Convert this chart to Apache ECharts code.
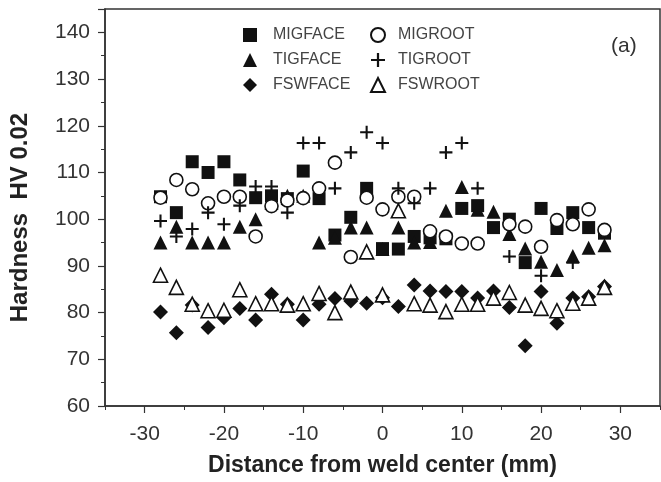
<!DOCTYPE html>
<html>
<head>
<meta charset="utf-8">
<script src="https://cdn.jsdelivr.net/npm/echarts@6/dist/echarts.min.js"></script>
<style>html,body{margin:0;padding:0;background:#fff;}#c{width:661px;height:482px;}</style>
</head>
<body>
<div id="c"></div>
<script>
var positions = [-28,-26,-24,-22,-20,-18,-16,-14,-12,-10,-8,-6,-4,-2,0,2,4,6,8,10,12,14,16,18,20,22,24,26,28];
var migFace = [104.8,101.4,112.3,110,112.3,108.4,104.6,105,104.4,110.3,104.4,96.6,100.4,106.6,93.7,93.6,96.3,96,95.8,102.3,102.9,98.2,100,90.7,102.3,98,101.4,98.2,97];
var migRoot = [104.6,108.4,106.4,103.4,104.8,104.8,96.3,102.8,104,104.5,106.6,112.1,91.9,104.6,102.1,104.8,104.8,97.4,96.3,94.8,94.8,null,98.9,98.4,94.1,99.8,98.9,102.1,97.7];
var tigFace = [95,98.4,95,95,95,98.4,100,103.5,105,105,95,96,98.2,98.2,93.6,98.2,95,95.1,101.8,106.9,102,101.6,96.8,93.7,90.9,89.1,92.1,93.9,94.4];
var tigRoot = [99.6,96.3,97.9,101.4,98.9,102.9,107,107,101.4,116.3,116.3,106.6,114.3,118.6,116.3,106.6,103.4,106.6,114.3,116.3,106.6,null,92,null,87.9,null,90.7,null,null];
var fswFace = [80.1,75.7,81.6,76.8,78.9,80.9,78.4,83.9,81.8,78.4,81.8,83,82.5,82,83.2,81.3,85.9,84.6,84.5,84.5,83.1,84.6,81.1,72.9,84.5,77.7,83.1,83.4,85.6];
var fswRoot = [88,85.4,81.8,80.4,80.5,84.9,81.9,81.9,81.6,81.9,84.1,80,84.4,93,83.8,101.8,81.9,81.6,80.2,81.8,81.8,83.1,84.3,81.6,80.9,80.4,82,83.1,85.4];
var xTicks = [-30,-20,-10,0,10,20,30];
var yTicks = [60,70,80,90,100,110,120,130,140];
var panelLabel = '(a)';

function pairs(vals){
  var out = [];
  positions.forEach(function(x,i){ if (vals[i] !== null) out.push([x, vals[i]]); });
  return out;
}
var plusPath = 'path://M4.2,0h1.6v4.2h4.2v1.6h-4.2v4.2h-1.6v-4.2h-4.2v-1.6h4.2z';
var ink = '#111';
var FONT = 'Liberation Sans, Arial, sans-serif';

function filled(name, symbol, vals, size){
  return {name:name, type:'scatter', data:pairs(vals), symbol:symbol, symbolSize:size,
    itemStyle:{color:ink, opacity:1}, emphasis:{disabled:true}};
}
function hollow(name, symbol, vals, size){
  return {name:name, type:'scatter', data:pairs(vals), symbol:symbol, symbolSize:size,
    itemStyle:{color:'#fff', borderColor:ink, borderWidth:1.6, opacity:1}, emphasis:{disabled:true}};
}

var chart = echarts.init(document.getElementById('c'), null, {renderer:'canvas'});
var legendText = {fontFamily:FONT, fontSize:16, color:'#444'};
chart.setOption({
  animation:false,
  backgroundColor:'#fff',
  title:{text:panelLabel, left:606, top:31, textStyle:{fontFamily:FONT, fontSize:21, fontWeight:'normal', color:'#333'}},
  legend:[
    {data:['MIGFACE','TIGFACE','FSWFACE'], orient:'vertical', left:238, top:22, itemWidth:14, itemHeight:14, itemGap:9,
     textStyle:Object.assign({padding:[0,0,0,11]}, legendText), selectedMode:false},
    {data:['MIGROOT','TIGROOT','FSWROOT'], orient:'vertical', left:365, top:22, itemWidth:14, itemHeight:14, itemGap:9,
     textStyle:Object.assign({padding:[0,0,0,8]}, legendText), selectedMode:false}
  ],
  grid:{left:104, right:1, top:9, bottom:75, show:true, borderColor:'#333', borderWidth:1.5, backgroundColor:'transparent'},
  xAxis:[
    {type:'value', min:-35, max:35, interval:5, position:'bottom',
     name:'Distance from weld center (mm)', nameLocation:'middle', nameGap:48,
     nameTextStyle:{fontFamily:FONT, fontSize:23, fontWeight:'bold', color:'#222'},
     axisLine:{show:true, onZero:false, lineStyle:{color:'#333', width:1.5}},
     axisTick:{show:true, inside:false, length:7, customValues:xTicks, lineStyle:{color:'#333', width:1.2}},
     splitLine:{show:false},
     axisLabel:{margin:18, customValues:xTicks, fontFamily:FONT, fontSize:21, color:'#333'}
    },
    {type:'value', min:-35, max:35, interval:10, position:'bottom', offset:0,
     axisLine:{show:false, onZero:false},
     axisTick:{show:true, inside:false, length:4, lineStyle:{color:'#333', width:1}},
     axisLabel:{show:false}, splitLine:{show:false}
    }
  ],
  yAxis:{type:'value', min:60, max:145, interval:10,
    name:'Hardness  HV 0.02', nameLocation:'middle', nameGap:73, nameRotate:90,
    nameTextStyle:{fontFamily:FONT, fontSize:24, fontWeight:'bold', color:'#222', padding:[0,20,0,0]},
    axisLine:{show:true, onZero:false, lineStyle:{color:'#333', width:1.5}},
    axisTick:{show:true, inside:false, length:7, lineStyle:{color:'#333', width:1.2}},
    minorTick:{show:true, splitNumber:2, length:4, lineStyle:{color:'#333', width:1}},
    splitLine:{show:false},
    axisLabel:{margin:15, fontFamily:FONT, fontSize:21, color:'#333',
      formatter:function(v){ return yTicks.indexOf(v) >= 0 ? String(v) : ''; }}
  },
  series:[
    filled('MIGFACE','rect',migFace,13),
    filled('TIGFACE','triangle',tigFace,14),
    filled('FSWFACE','diamond',fswFace,15),
    hollow('MIGROOT','circle',migRoot,13),
    {name:'TIGROOT', type:'scatter', data:pairs(tigRoot), symbol:plusPath, symbolSize:13,
      itemStyle:{color:ink, opacity:1}, emphasis:{disabled:true}},
    hollow('FSWROOT','triangle',fswRoot,14)
  ]
});
</script>
</body>
</html>
